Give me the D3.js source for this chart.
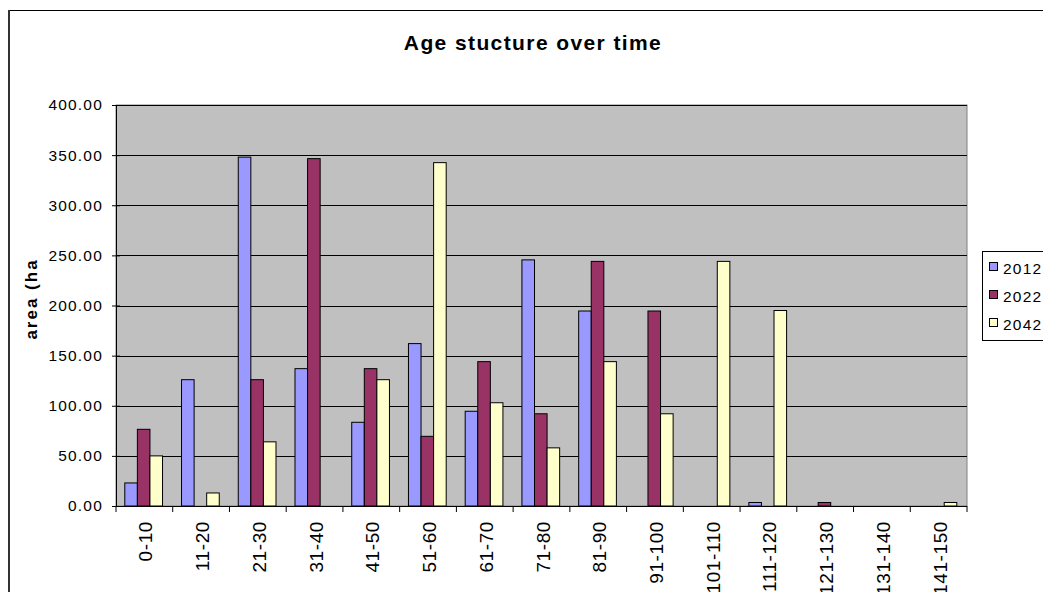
<!DOCTYPE html>
<html>
<head>
<meta charset="utf-8">
<script src="https://cdn.jsdelivr.net/npm/d3@7"></script>
<style>
  body { margin: 0; background: #fff; }
  svg { display: block; font-family: "Liberation Sans", Arial, sans-serif; }
  .axis text { fill: #000; }
</style>
</head>
<body>
<div id="container"></div>
<script>
'use strict';

//Data
const categories = ['0-10', '11-20', '21-30', '31-40', '41-50', '51-60', '61-70', '71-80',
    '81-90', '91-100', '101-110', '111-120', '121-130', '131-140', '141-150'];
const seriesNames = ['2012', '2022', '2042'];
const values2012 = [23, 126, 348, 137, 83.5, 162, 94.5, 245.5, 194.5, 0, 0, 3.5, 0, 0, 0];
const values2022 = [76.5, 0, 126, 346.5, 137, 69.5, 144, 92, 244, 194.5, 0, 0, 3.5, 0, 0];
const values2042 = [50, 13, 64, 0, 126, 342.5, 103, 58, 144, 92, 244, 195, 0, 0, 3.5];
const yTicks = [0, 50, 100, 150, 200, 250, 300, 350, 400];
const colors = ['#9999FF', '#993366', '#FFFFCC'];

//Sizing
const VIZ = {
    WIDTH: 1043,
    HEIGHT: 592,
    PLOT: { LEFT: 116, TOP: 105, RIGHT: 967, BOTTOM: 506 }
};

const svg = d3.select('#container')
    .append('svg')
    .attr('width', VIZ.WIDTH)
    .attr('height', VIZ.HEIGHT);

//Outer frame (only top and left edges are visible)
svg.append('line')
    .attr('x1', 8).attr('x2', VIZ.WIDTH)
    .attr('y1', 10.5).attr('y2', 10.5)
    .attr('stroke', '#000');
svg.append('line')
    .attr('x1', 9).attr('x2', 9)
    .attr('y1', 10).attr('y2', VIZ.HEIGHT)
    .attr('stroke', '#333')
    .attr('stroke-width', 2);

//Title
svg.append('text')
    .attr('x', 533).attr('y', 50)
    .attr('text-anchor', 'middle')
    .attr('font-size', 21).attr('font-weight', 'bold')
    .attr('letter-spacing', 1.4)
    .text('Age stucture over time');

//Scales
const x0 = d3.scaleBand()
    .domain(categories)
    .range([VIZ.PLOT.LEFT, VIZ.PLOT.RIGHT]);
const bw = x0.bandwidth();
const x1 = d3.scaleBand()
    .domain(seriesNames)
    .range([bw * 0.155, bw * 0.82]);
const y = d3.scaleLinear()
    .domain([0, 400])
    .range([VIZ.PLOT.BOTTOM, VIZ.PLOT.TOP]);

//Plot background
svg.append('rect')
    .attr('x', VIZ.PLOT.LEFT).attr('y', VIZ.PLOT.TOP)
    .attr('width', VIZ.PLOT.RIGHT - VIZ.PLOT.LEFT)
    .attr('height', VIZ.PLOT.BOTTOM - VIZ.PLOT.TOP)
    .attr('fill', '#C0C0C0')
    .attr('stroke', '#808080');

//Grid lines
svg.append('g').selectAll('line')
    .data(yTicks.slice(1))
    .join('line')
    .attr('x1', VIZ.PLOT.LEFT).attr('x2', VIZ.PLOT.RIGHT)
    .attr('y1', d => Math.round(y(d)) + 0.5).attr('y2', d => Math.round(y(d)) + 0.5)
    .attr('stroke', '#000')
    .attr('stroke-width', 1);

//Bars
const series = [values2012, values2022, values2042];
const barData = [];
categories.forEach((c, i) => {
    seriesNames.forEach((s, j) => {
        barData.push({ cat: c, name: s, value: series[j][i], color: colors[j] });
    });
});
svg.append('g').selectAll('rect')
    .data(barData.filter(d => d.value > 0))
    .join('rect')
    .attr('x', d => x0(d.cat) + x1(d.name))
    .attr('y', d => y(d.value))
    .attr('width', x1.bandwidth())
    .attr('height', d => y(0) - y(d.value))
    .attr('fill', d => d.color)
    .attr('stroke', '#000')
    .attr('stroke-width', 1);

//Y axis
const yAxis = d3.axisLeft(y)
    .tickValues(yTicks)
    .tickFormat(d3.format('.2f'))
    .tickSize(4)
    .tickPadding(9);
const gy = svg.append('g')
    .attr('class', 'axis')
    .attr('transform', `translate(${VIZ.PLOT.LEFT},0)`)
    .call(yAxis);
gy.select('.domain').attr('stroke', '#000');
gy.selectAll('.tick line').attr('stroke', '#000').attr('x2', -4).attr('x1', 4);
gy.selectAll('.tick text')
    .attr('font-size', 15.5)
    .attr('font-family', '"Liberation Sans", Arial, sans-serif')
    .attr('letter-spacing', 1.2);

//X axis
const gx = svg.append('g')
    .attr('class', 'axis')
    .attr('transform', `translate(0,${VIZ.PLOT.BOTTOM})`);
gx.append('line')
    .attr('x1', VIZ.PLOT.LEFT).attr('x2', VIZ.PLOT.RIGHT)
    .attr('y1', 0.5).attr('y2', 0.5)
    .attr('stroke', '#000');
gx.selectAll('.tick')
    .data(categories.concat(['end']))
    .join('line')
    .attr('x1', (d, i) => VIZ.PLOT.LEFT + i * bw)
    .attr('x2', (d, i) => VIZ.PLOT.LEFT + i * bw)
    .attr('y1', 0).attr('y2', 6)
    .attr('stroke', '#000');
gx.selectAll('text')
    .data(categories)
    .join('text')
    .attr('transform', d => `translate(${x0(d) + bw / 2 + 8},15) rotate(-90)`)
    .attr('text-anchor', 'end')
    .attr('font-size', 19)
    .attr('letter-spacing', 0.6)
    .text(d => d);

//Y axis title
svg.append('text')
    .attr('transform', 'translate(37,299) rotate(-90)')
    .attr('text-anchor', 'middle')
    .attr('font-size', 17).attr('font-weight', 'bold')
    .attr('letter-spacing', 2)
    .text('area (ha');

//Legend
const legend = svg.append('g').attr('transform', 'translate(982,251)');
legend.append('rect')
    .attr('x', 0.5).attr('y', 0.5)
    .attr('width', 100).attr('height', 89)
    .attr('fill', '#fff')
    .attr('stroke', '#000');
seriesNames.forEach((s, i) => {
    legend.append('rect')
        .attr('x', 7.5).attr('y', 11.5 + i * 28)
        .attr('width', 8).attr('height', 8)
        .attr('fill', colors[i])
        .attr('stroke', '#000');
    legend.append('text')
        .attr('x', 21).attr('y', 22.5 + i * 28)
        .attr('font-size', 15.5)
        .attr('letter-spacing', 1.2)
        .text(s);
});
</script>
</body>
</html>
